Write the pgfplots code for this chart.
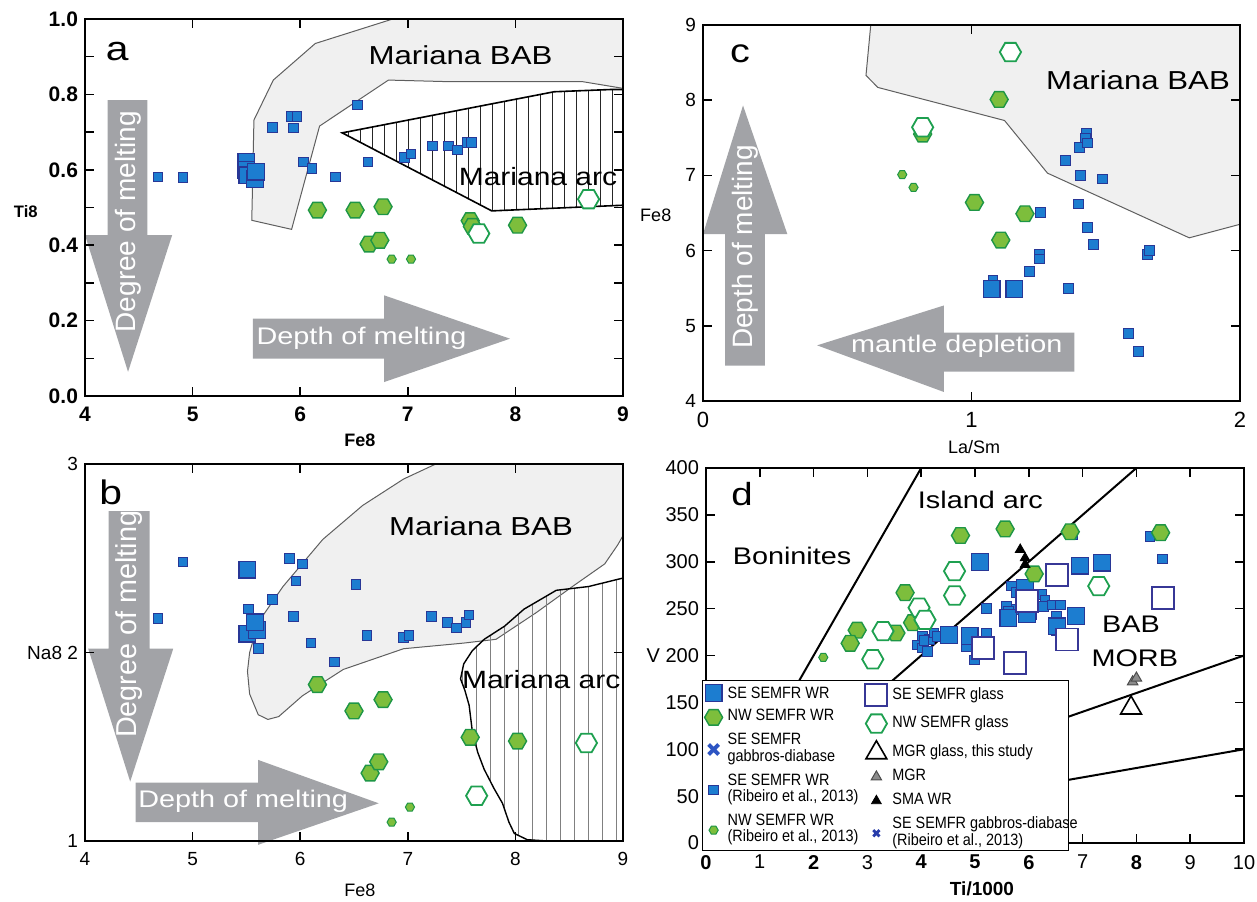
\documentclass[border=0pt]{standalone}
\usepackage{pgfplots}
\pgfplotsset{compat=1.18}
\usepackage{fontspec}
\setmainfont{Liberation Sans}
\newfontfamily\wf[FakeStretch=1.2]{Liberation Sans}
\newfontfamily\nf[FakeStretch=0.88]{Liberation Sans}
\usetikzlibrary{patterns.meta}

\definecolor{blueF}{RGB}{28,125,208}
\definecolor{blueE}{RGB}{40,55,150}
\definecolor{greenF}{RGB}{125,190,60}
\definecolor{greenE}{RGB}{30,150,70}
\definecolor{hexE}{RGB}{30,160,80}
\definecolor{sqE}{RGB}{55,55,150}
\definecolor{arrG}{RGB}{162,163,167}
\definecolor{babF}{RGB}{240,240,240}
\definecolor{babE}{RGB}{95,95,95}
\definecolor{gabC}{RGB}{45,85,195}
\definecolor{gabD}{RGB}{40,60,170}

\pgfdeclareplotmark{hexa}{%
  \pgfpathmoveto{\pgfqpoint{\pgfplotmarksize}{0pt}}%
  \pgfpathlineto{\pgfqpoint{0.5\pgfplotmarksize}{0.866\pgfplotmarksize}}%
  \pgfpathlineto{\pgfqpoint{-0.5\pgfplotmarksize}{0.866\pgfplotmarksize}}%
  \pgfpathlineto{\pgfqpoint{-\pgfplotmarksize}{0pt}}%
  \pgfpathlineto{\pgfqpoint{-0.5\pgfplotmarksize}{-0.866\pgfplotmarksize}}%
  \pgfpathlineto{\pgfqpoint{0.5\pgfplotmarksize}{-0.866\pgfplotmarksize}}%
  \pgfpathclose\pgfusepathqfillstroke}

\newcommand{\lgt}[1]{\begin{tabular}[t]{@{}l@{}}#1\end{tabular}}
\newcommand{\fs}[1]{\fontsize{#1}{#1}\selectfont}

\pgfplotsset{
  panel/.style={scale only axis, axis on top, clip mode=individual, tick align=inside,
    axis line style={line width=0.9pt}, every tick/.style={black, line width=0.8pt},
    major tick length=4.5pt, minor tick length=4.5pt,
    /pgf/number format/assume math mode=true},
  seBig/.style={only marks, mark=square*, mark size=4.2pt, mark options={fill=blueF, draw=blueE, line width=0.6pt}},
  seSm/.style={only marks, mark=square*, mark size=2.4pt, mark options={fill=blueF, draw=blueE, line width=0.5pt}},
  nwBig/.style={only marks, mark=hexa, mark size=4.5pt, mark options={fill=greenF, draw=greenE, line width=0.7pt}},
  nwSm/.style={only marks, mark=hexa, mark size=2.3pt, mark options={fill=greenF, draw=greenE, line width=0.5pt}},
  nwGl/.style={only marks, mark=hexa, mark size=5.3pt, mark options={fill=white, draw=hexE, line width=0.9pt}},
  seGl/.style={only marks, mark=square*, mark size=5.5pt, mark options={fill=white, draw=sqE, line width=0.9pt}},
  mgrGl/.style={only marks, mark=triangle*, mark size=6pt, mark options={fill=white, draw=black, line width=0.8pt}},
  mgr/.style={only marks, mark=triangle*, mark size=3pt, mark options={fill=black!45, draw=black!70, line width=0.5pt}},
  sma/.style={only marks, mark=triangle*, mark size=2.8pt, mark options={fill=black, draw=black}},
  gabBig/.style={only marks, mark=x, mark size=3.5pt, mark options={draw=gabC, line width=2pt}},
  gabSm/.style={only marks, mark=x, mark size=2.2pt, mark options={draw=gabD, line width=1.4pt}},
  mylegend/.style={legend cell align=left,
    legend style={font=\nf\fontsize{8.2pt}{7.5pt}\selectfont, inner xsep=1pt, inner ysep=2pt,
      row sep=4pt, nodes={inner xsep=2.5pt, inner ysep=0pt, text depth=}}},
}

\begin{document}
\begin{tikzpicture}
\path[use as bounding box] (0,0) rectangle (628.5pt,450.5pt);

%%%%%%%%%%%%%%%% panel a
\begin{axis}[panel, at={(42.5pt,252.5pt)}, anchor=south west, width=269pt, height=188.5pt,
  xmin=4, xmax=9, ymin=0, ymax=1, xtick={4,5,6,7,8,9},
  ytick={0,0.2,0.4,0.6,0.8,1.0}, minor ytick={0.1,0.3,0.5,0.7,0.9},
  yticklabel style={/pgf/number format/fixed, /pgf/number format/fixed zerofill, /pgf/number format/precision=1},
  ticklabel style={font=\bfseries\fs{10.5pt}}, xticklabel style={yshift=-2pt}]
\addplot[fill=babF, draw=babE, line width=0.5pt] coordinates {
 (5.55,0.466) (5.57,0.732) (5.75,0.838) (6.14,0.935) (6.86,1.0) (6.9,1.05) (9.1,1.05)
 (9.1,0.816) (9.0,0.816) (8.62,0.834) (7.35,0.834) (6.82,0.838) (6.18,0.716) (5.92,0.442)} -- cycle;
\addplot[pattern={Lines[angle=90,distance=6pt,line width=0.4pt]}, pattern color=black!85, draw=black, line width=0.8pt] coordinates {
 (6.39,0.698) (8.36,0.807) (8.89,0.813) (9.0,0.813) (9.0,0.506) (7.78,0.491)} -- cycle;
\fill[arrG] (axis cs:4.21,0.785) -- (axis cs:4.58,0.785) -- (axis cs:4.58,0.427) -- (axis cs:4.81,0.427)
  -- (axis cs:4.40,0.064) -- (axis cs:4.0,0.427) -- (axis cs:4.21,0.427) -- cycle;
\fill[arrG] (axis cs:5.56,0.099) -- (axis cs:5.56,0.205) -- (axis cs:6.78,0.205) -- (axis cs:6.78,0.267)
  -- (axis cs:7.95,0.152) -- (axis cs:6.78,0.037) -- (axis cs:6.78,0.099) -- cycle;
\node[white, rotate=90, font=\fs{14pt}] at (axis cs:4.40,0.462) {Degree of melting};
\node[white, font=\wf\fs{12pt}] at (axis cs:6.57,0.152) {Depth of melting};
\node[font=\wf\fs{17pt}] at (axis cs:4.30,0.913) {a};
\node[font=\wf\fs{13pt}] at (axis cs:7.49,0.904) {Mariana BAB};
\node[font=\wf\fs{12.5pt}] at (axis cs:8.21,0.581) {Mariana arc};
\node[font=\bfseries\fs{8.3pt}] at (rel axis cs:-0.11,0.49) {Ti8};
\node[font=\bfseries\fs{9pt}] at (rel axis cs:0.511,-0.117) {Fe8};
\addplot[seSm] coordinates {(4.68,0.581) (4.91,0.58) (5.74,0.712) (5.92,0.741) (5.97,0.741) (5.94,0.711)
 (6.53,0.772) (6.03,0.621) (6.11,0.603) (6.33,0.581) (6.63,0.621) (6.97,0.633) (7.03,0.642) (7.23,0.663)
 (7.38,0.663) (7.46,0.652) (7.55,0.672) (7.59,0.672)};
\addplot[seBig] coordinates {(5.50,0.62) (5.50,0.60) (5.51,0.585) (5.58,0.575) (5.59,0.595)};
\addplot[nwSm] coordinates {(6.85,0.363) (7.03,0.363)};
\addplot[nwBig] coordinates {(6.16,0.493) (6.51,0.493) (6.77,0.502) (6.64,0.403) (6.74,0.413) (7.58,0.465) (7.60,0.45) (8.02,0.453)};
\addplot[nwGl] coordinates {(8.68,0.522) (7.66,0.431)};
\end{axis}

%%%%%%%%%%%%%%%% panel b
\begin{axis}[panel, at={(42.5pt,30pt)}, anchor=south west, width=269pt, height=188.5pt,
  xmin=4, xmax=9, ymin=1, ymax=3, xtick={4,5,6,7,8,9}, ytick={1,2,3}, yticklabels={1,Na8 2,3},
  ticklabel style={font=\fs{9.5pt}}, xticklabel style={yshift=-2pt}]
\addplot[fill=babF, draw=babE, line width=0.5pt] coordinates {
 (7.26,3.0) (6.96,2.92) (6.58,2.78) (6.21,2.60) (5.84,2.35) (5.61,2.16) (5.53,2.00) (5.51,1.90) (5.53,1.78)
 (5.61,1.67) (5.70,1.645) (5.80,1.66) (6.02,1.77) (6.40,1.91) (6.96,2.02) (7.52,2.05) (7.82,2.07) (8.19,2.21)
 (8.53,2.35) (8.83,2.47) (8.95,2.57) (9.0,2.62) (9.05,2.62) (9.05,3.05) (7.26,3.05)} -- cycle;
\addplot[pattern={Lines[angle=90,distance=7pt,line width=0.4pt]}, pattern color=black!50, draw=black, line width=0.7pt] coordinates {
 (9,2.395) (8.68,2.35) (8.38,2.33) (8.08,2.23) (7.90,2.14) (7.71,2.07) (7.60,2.01) (7.52,1.94) (7.49,1.86)
 (7.53,1.80) (7.57,1.72) (7.60,1.58) (7.65,1.47) (7.71,1.38) (7.80,1.28) (7.88,1.20) (7.94,1.10) (7.99,1.04)
 (8.11,1.007) (8.3,1.0) (9,1.0)} -- cycle;
\fill[arrG] (axis cs:4.22,2.75) -- (axis cs:4.60,2.75) -- (axis cs:4.60,2.02) -- (axis cs:4.82,2.02)
  -- (axis cs:4.42,1.315) -- (axis cs:4.03,2.02) -- (axis cs:4.22,2.02) -- cycle;
\fill[arrG] (axis cs:4.47,1.10) -- (axis cs:4.47,1.31) -- (axis cs:5.61,1.31) -- (axis cs:5.61,1.43)
  -- (axis cs:6.73,1.20) -- (axis cs:5.61,0.98) -- (axis cs:5.61,1.10) -- cycle;
\node[white, rotate=90, font=\fs{14.4pt}] at (axis cs:4.41,2.15) {Degree of melting};
\node[white, font=\wf\fs{12pt}] at (axis cs:5.47,1.21) {Depth of melting};
\node[font=\wf\fs{17pt}] at (axis cs:4.24,2.85) {b};
\node[font=\wf\fs{13pt}] at (axis cs:7.68,2.67) {Mariana BAB};
\node[font=\wf\fs{12.5pt}] at (axis cs:8.24,1.855) {Mariana arc};
\node[font=\fs{9pt}] at (rel axis cs:0.511,-0.13) {Fe8};
\addplot[seSm] coordinates {(4.68,2.18) (4.91,2.48) (5.52,2.23) (5.61,2.02) (5.74,2.28) (5.90,2.50) (6.02,2.47)
 (5.96,2.38) (5.94,2.19) (6.10,2.05) (6.52,2.36) (6.32,1.95) (6.62,2.09) (6.96,2.08) (7.01,2.09) (7.22,2.19)
 (7.37,2.16) (7.45,2.13) (7.54,2.16) (7.57,2.20)};
\addplot[seBig] coordinates {(5.51,2.44) (5.51,2.10) (5.60,2.12) (5.58,2.16)};
\addplot[nwSm] coordinates {(7.02,1.18) (6.85,1.10)};
\addplot[nwBig] coordinates {(6.16,1.83) (6.50,1.69) (6.77,1.75) (7.58,1.55) (8.02,1.53) (6.65,1.36) (6.73,1.42)};
\addplot[nwGl] coordinates {(8.66,1.52) (7.64,1.24)};
\end{axis}

%%%%%%%%%%%%%%%% panel c
\begin{axis}[panel, at={(351.5pt,250pt)}, anchor=south west, width=268.5pt, height=188pt,
  xmin=0, xmax=2, ymin=4, ymax=9, xtick={0,1,2}, ytick={4,5,6,7,8,9},
  yticklabel style={font=\fs{9.5pt}}, xticklabel style={font=\fs{11pt}, yshift=-2pt}]
\addplot[fill=babF, draw=babE, line width=0.5pt] coordinates {
 (0.63,9.2) (0.607,8.33) (0.651,8.17) (1.123,7.73) (1.283,7.03) (1.811,6.17) (2.0,6.35) (2.05,6.37) (2.05,9.2)} -- cycle;
\fill[arrG] (axis cs:0.082,4.47) -- (axis cs:0.230,4.47) -- (axis cs:0.230,6.22) -- (axis cs:0.314,6.22)
  -- (axis cs:0.149,7.93) -- (axis cs:0.0,6.22) -- (axis cs:0.082,6.22) -- cycle;
\fill[arrG] (axis cs:1.383,4.39) -- (axis cs:1.383,4.91) -- (axis cs:0.897,4.91) -- (axis cs:0.897,5.27)
  -- (axis cs:0.425,4.74) -- (axis cs:0.897,4.12) -- (axis cs:0.897,4.39) -- cycle;
\node[white, rotate=90, font=\fs{14pt}] at (axis cs:0.156,6.05) {Depth of melting};
\node[white, font=\wf\fs{12pt}] at (axis cs:0.945,4.73) {mantle depletion};
\node[font=\wf\fs{16.5pt}] at (axis cs:0.138,8.62) {c};
\node[font=\wf\fs{13pt}] at (axis cs:1.62,8.27) {Mariana BAB};
\node[font=\fs{9pt}] at (rel axis cs:-0.088,0.495) {Fe8};
\node[font=\fs{9pt}] at (rel axis cs:0.505,-0.122) {La/Sm};
\addplot[seSm] coordinates {(1.257,6.51) (1.254,5.95) (1.254,5.89) (1.216,5.72) (1.361,5.50) (1.350,7.20)
 (1.402,7.37) (1.429,7.56) (1.425,7.50) (1.432,7.43) (1.405,7.0) (1.488,6.95) (1.399,6.62) (1.432,6.31)
 (1.454,6.08) (1.655,5.95) (1.662,6.0) (1.584,4.90) (1.622,4.66) (1.08,5.6)};
\addplot[seBig] coordinates {(1.075,5.49) (1.160,5.49)};
\addplot[nwSm] coordinates {(0.742,7.01) (0.784,6.84)};
\addplot[nwBig] coordinates {(1.103,8.01) (1.011,6.64) (1.199,6.49) (1.109,6.14) (0.818,7.55)};
\addplot[nwGl] coordinates {(1.145,8.64) (0.818,7.64)};
\end{axis}

%%%%%%%%%%%%%%%% panel d
\begin{axis}[panel, at={(353pt,29pt)}, anchor=south west, width=269pt, height=187.5pt,
  xmin=0, xmax=10, ymin=0, ymax=400, xtick={0,1,...,10}, ytick={0,50,...,400},
  xticklabels={\textbf{0},1,\textbf{2},3,\textbf{4},\textbf{5},\textbf{6},7,\textbf{8},9,10},
  yticklabels={0,50,100,150,V 200,250,300,350,400},
  ticklabel style={font=\fs{10pt}}, xticklabel style={yshift=-2.5pt},
  mylegend, legend style={at={(-0.0074,0.4347)}, anchor=north west, draw=black, line width=0.6pt, fill=white},
  legend image code/.code={\draw[mark repeat=2,mark phase=2,#1] plot coordinates {(0pt,0pt) (8pt,0pt) (16pt,0pt)};}]
\addplot[black, line width=1pt, forget plot] coordinates {(0,0) (4,400)};
\addplot[black, line width=1pt, forget plot] coordinates {(0,0) (8,400)};
\addplot[black, line width=1pt, forget plot] coordinates {(0,0) (10,200)};
\addplot[black, line width=1pt, forget plot] coordinates {(0,0) (10,100)};
\node[font=\wf\fs{16pt}] at (axis cs:0.67,372) {d};
\node[font=\wf\fs{12pt}] at (axis cs:5.1,366) {Island arc};
\node[font=\wf\fs{12pt}] at (axis cs:1.6,306) {Boninites};
\node[font=\wf\fs{12pt}] at (axis cs:7.9,233) {BAB};
\node[font=\wf\fs{12pt}] at (axis cs:7.97,197) {MORB};
\node[font=\bfseries\fs{9.5pt}] at (rel axis cs:0.513,-0.121) {Ti/1000};
\addplot[seSm, forget plot] coordinates {(4.02,220) (3.93,211) (4.15,217) (4.02,208) (4.24,224) (4.12,204)
 (4.84,209) (5.21,224) (4.99,195) (5.21,250) (5.68,274) (5.77,267) (6.24,265) (6.30,259) (6.27,252)
 (6.43,254) (6.59,254) (6.52,242) (6.59,233) (6.52,226) (5.59,252) (5.77,249) (6.06,243) (5.62,247)
 (6.82,329) (8.25,327) (8.48,303) (4.05,216) (4.30,220)};
\addplot[seBig, forget plot] coordinates {(5.09,300) (6.95,296) (7.36,299) (6.88,242) (4.52,222) (4.90,221)
 (5.62,240) (5.93,272) (5.97,244) (6.52,231)};
\addplot[nwSm, forget plot] coordinates {(2.18,198)};
\addplot[nwBig, forget plot] coordinates {(4.73,328) (5.56,335) (6.77,332) (8.45,331) (6.10,287) (3.70,267)
 (2.81,227) (2.68,213) (3.53,224) (3.84,235)};
\addplot[seGl, forget plot] coordinates {(6.52,286) (5.96,258) (5.15,208) (5.74,192) (6.71,217) (8.50,261)};
\addplot[nwGl, forget plot] coordinates {(4.62,290) (4.62,264) (3.96,251) (4.07,238) (3.29,226) (3.10,196) (7.30,274)};
\addplot[sma, forget plot] coordinates {(5.84,313) (5.93,304) (5.93,297)};
\addplot[mgr, forget plot] coordinates {(7.93,172) (8.0,176)};
\addplot[mgrGl, forget plot] coordinates {(7.90,144)};
\addlegendimage{seBig}\addlegendentry{\makebox[167pt][l]{SE SEMFR WR}}
\addlegendimage{nwBig}\addlegendentry{\lgt{NW SEMFR WR}}
\addlegendimage{gabBig}\addlegendentry{\lgt{SE SEMFR\\gabbros-diabase}}
\addlegendimage{seSm}\addlegendentry{\lgt{SE SEMFR WR\\(Ribeiro et al., 2013)}}
\addlegendimage{nwSm}\addlegendentry{\lgt{NW SEMFR WR\\(Ribeiro et al., 2013)}}
\end{axis}

%%%%%%%%%%%%%%%% second legend column of panel d
\begin{axis}[at={(353pt,29pt)}, anchor=south west, scale only axis, width=269pt, height=187.5pt,
  hide axis, xmin=0, xmax=1, ymin=0, ymax=1,
  mylegend, legend style={at={(0.2918,0.4347)}, anchor=north west, draw=none, fill=none},
  legend image code/.code={\draw[mark repeat=2,mark phase=2,#1] plot coordinates {(0pt,0pt) (8pt,0pt) (16pt,0pt)};}]
\addlegendimage{seGl}\addlegendentry{\lgt{SE SEMFR glass}}
\addlegendimage{nwGl}\addlegendentry{\lgt{NW SEMFR glass}}
\addlegendimage{mgrGl}\addlegendentry{\lgt{MGR glass, this study}}
\addlegendimage{mgr}\addlegendentry{\lgt{MGR}}
\addlegendimage{sma}\addlegendentry{\lgt{SMA WR}}
\addlegendimage{gabSm}\addlegendentry{\lgt{SE SEMFR gabbros-diabase\\(Ribeiro et al., 2013)}}
\end{axis}
\end{tikzpicture}
\end{document}
